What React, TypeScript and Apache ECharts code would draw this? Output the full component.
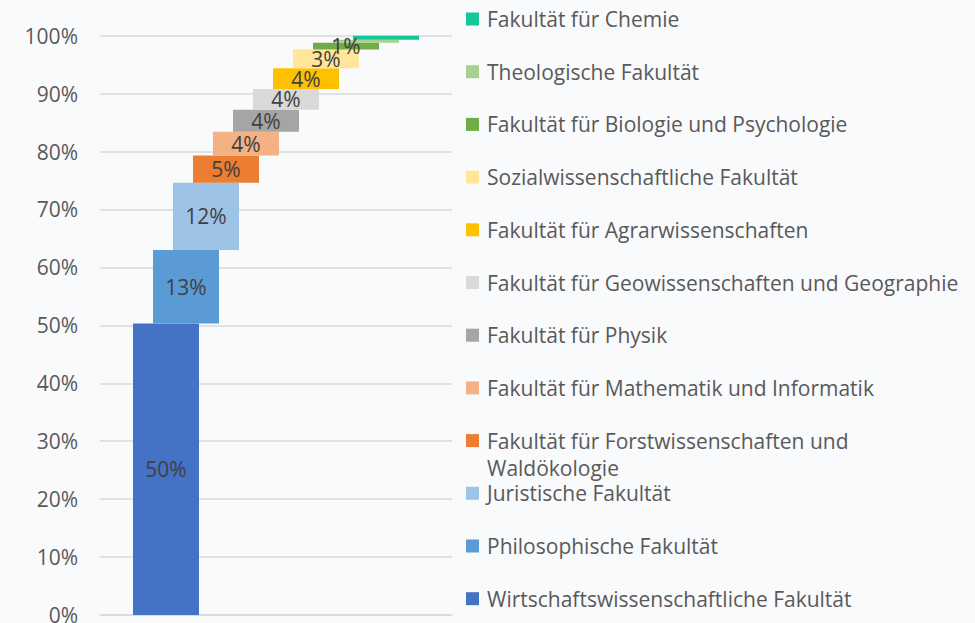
import React, { useEffect, useRef } from "react";
import * as echarts from "echarts";

const faculties = [
  "Wirtschaftswissenschaftliche Fakultät",
  "Philosophische Fakultät",
  "Juristische Fakultät",
  "Fakultät für Forstwissenschaften und Waldökologie",
  "Fakultät für Mathematik und Informatik",
  "Fakultät für Physik",
  "Fakultät für Geowissenschaften und Geographie",
  "Fakultät für Agrarwissenschaften",
  "Sozialwissenschaftliche Fakultät",
  "Fakultät für Biologie und Psychologie",
  "Theologische Fakultät",
  "Fakultät für Chemie",
];

const shares = [50.3, 12.7, 11.6, 4.7, 4.1, 3.8, 3.6, 3.6, 3.2, 1.2, 0.5, 0.7];

const colors = [
  "#4472c4",
  "#5b9bd5",
  "#9dc3e6",
  "#ed7d31",
  "#f4b183",
  "#a5a5a5",
  "#d9d9d9",
  "#ffc000",
  "#ffe699",
  "#70ad47",
  "#a9d18e",
  "#14c799",
];

const yMin = 0;
const yMax = 100;
const yStep = 10;

const FONT = "'Open Sans', 'Noto Sans', sans-serif";
const FS = 21;
const WRAP_NAME = "Fakultät für Forstwissenschaften und Waldökologie";

export default function App() {
  const ref = useRef<HTMLDivElement>(null);

  useEffect(() => {
    if (!ref.current) return;
    const chart = echarts.init(ref.current, undefined, { renderer: "svg" });

    const bases: number[] = [];
    let acc = 0;
    shares.forEach((v) => {
      bases.push(acc);
      acc += v;
    });

    const series: any[] = [];
    faculties.forEach((name, i) => {
      series.push({
        name: "_base" + i,
        type: "bar",
        stack: "s" + i,
        barWidth: 66,
        barGap: "-69.697%",
        data: [bases[i]],
        itemStyle: { color: "rgba(0,0,0,0)" },
        silent: true,
        label: { show: false },
      });
      series.push({
        name,
        type: "bar",
        stack: "s" + i,
        barWidth: 66,
        barGap: "-69.697%",
        data: [shares[i]],
        itemStyle: { color: colors[i] },
        label: {
          show: shares[i] >= 1,
          position: "inside",
          formatter: (p: any) => Math.round(p.value) + "%",
          color: "#404040",
          fontSize: FS,
          fontFamily: FONT,
        },
      });
    });

    chart.setOption({
      animation: false,
      backgroundColor: "#f9fafc",
      grid: {
        left: 100,
        right: 523,
        top: 35.7,
        bottom: 8,
        containLabel: false,
        outerBoundsMode: "none",
      },
      xAxis: {
        type: "category",
        data: [""],
        axisLine: { lineStyle: { color: "#d9d9d9", width: 1.5 } },
        axisTick: { show: false },
        axisLabel: { show: false },
      },
      yAxis: {
        type: "value",
        min: yMin,
        max: yMax,
        interval: yStep,
        axisLine: { show: false },
        axisTick: { show: false },
        splitLine: { lineStyle: { color: "#d9d9d9", width: 1.5 } },
        axisLabel: {
          formatter: "{value}%",
          color: "#595959",
          fontSize: FS,
          fontFamily: FONT,
          margin: 22,
        },
      },
      legend: {
        orient: "vertical",
        left: 466,
        top: 7,
        padding: 0,
        itemGap: 28.7,
        itemWidth: 13,
        itemHeight: 13,
        icon: "rect",
        data: faculties.slice().reverse(),
        formatter: (n: string) =>
          n === WRAP_NAME ? "Fakultät für Forstwissenschaften und" : n,
        textStyle: {
          color: "#595959",
          fontSize: FS,
          fontFamily: FONT,
          lineHeight: 24,
          padding: [0, 0, 0, 3],
        },
      },
      graphic: [
        {
          type: "text",
          left: 487,
          top: 457,
          silent: true,
          style: {
            text: "Waldökologie",
            fill: "#595959",
            fontSize: FS,
            fontFamily: FONT,
          },
        },
      ],
      series,
    });

    return () => chart.dispose();
  }, []);

  return (
    <div
      ref={ref}
      style={{ position: "fixed", left: 0, top: 0, width: 975, height: 623 }}
    />
  );
}
